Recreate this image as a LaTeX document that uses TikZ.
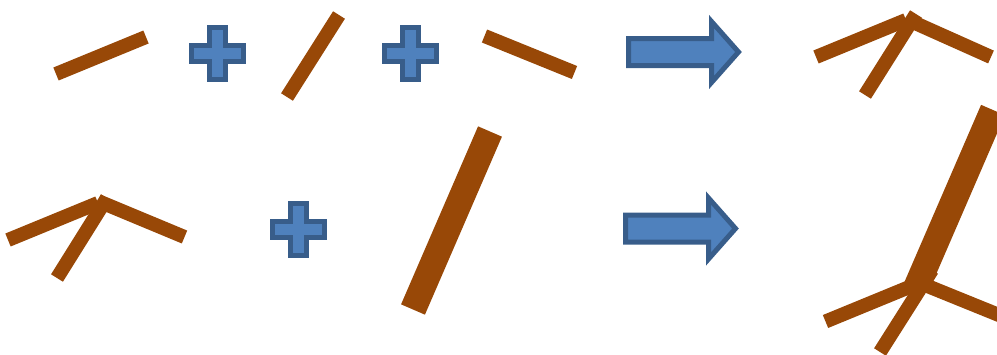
\documentclass[tikz,border=0pt]{standalone}
\definecolor{stickbrown}{HTML}{984807}
\definecolor{shapefill}{HTML}{4F81BD}
\definecolor{shapeline}{HTML}{385D8A}

\begin{document}
\begin{tikzpicture}[x=1pt,y=-1pt,
      stick/.style={draw=stickbrown,line width=14pt},
      bigstick/.style={draw=stickbrown,line width=26pt},
      blueshape/.style={fill=shapefill,draw=shapeline,line width=5pt,line join=miter}]
    \useasboundingbox (0,0) rectangle (997,354);
    \clip (0,0) rectangle (997,354);
    % top row: three sticks
    \draw[stick] (56,74) -- (146,37);
    \draw[stick] (287,97) -- (339,15);
    \draw[stick] (484.5,36) -- (574.5,72.5);
    % top row: result
    \draw[stick] (816,57) -- (906,20);
    \draw[stick] (865,95) -- (916,14);
    \draw[stick] (906,19) -- (991,57);
    % bottom row: joined sticks
    \draw[stick] (8,240) -- (98,203);
    \draw[stick] (57,278) -- (107,198);
    \draw[stick] (98,201) -- (184.5,237);
    % bottom row: long stick
    \draw[bigstick] (490,131.5) -- (413,309.5);
    % bottom row: result
    \draw[bigstick] (993,110) -- (916,288);
    \draw[stick] (825.5,321.5) -- (915.5,284.5);
    \draw[stick] (880,352) -- (932,270);
    \draw[stick] (920,283) -- (1010,319.5);
    % plus signs
    \foreach \cx/\cy in {217.5/53,410.5/53,298.5/229}
      \draw[blueshape] (\cx-8,\cy-26) -- ++(16,0) -- ++(0,18) -- ++(18,0)
        -- ++(0,16) -- ++(-18,0) -- ++(0,18) -- ++(-16,0) -- ++(0,-18)
        -- ++(-18,0) -- ++(0,-16) -- ++(18,0) -- cycle;
    % block arrows
    \foreach \ax/\ay in {628.5/52,625.5/228.5}
      \draw[blueshape] (\ax,\ay-13.5) -- (\ax+83,\ay-13.5) -- (\ax+83,\ay-30.5)
        -- (\ax+110,\ay) -- (\ax+83,\ay+30.5) -- (\ax+83,\ay+13.5)
        -- (\ax,\ay+13.5) -- cycle;
  \end{tikzpicture}
\end{document}
